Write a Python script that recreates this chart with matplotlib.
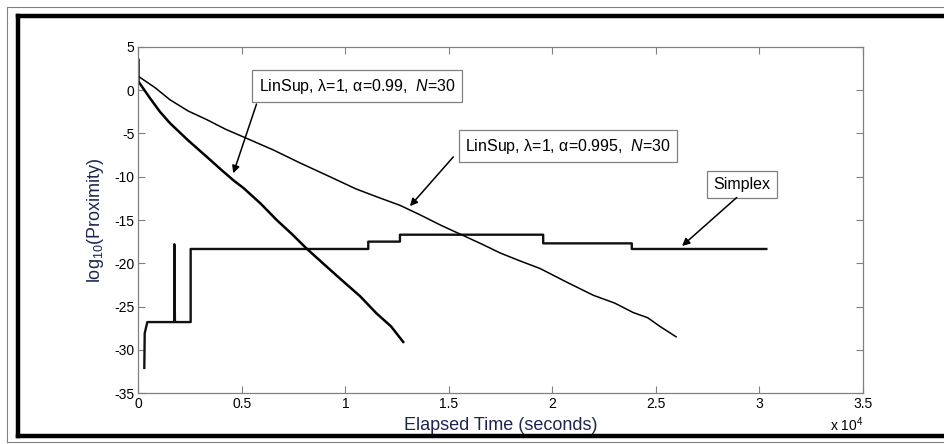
import matplotlib
matplotlib.use("Agg")
import matplotlib.pyplot as plt
from matplotlib.ticker import FuncFormatter
from matplotlib.lines import Line2D

plt.rcParams['font.family'] = ['Liberation Sans', 'DejaVu Sans']
plt.rcParams['axes.unicode_minus'] = False
plt.rcParams['mathtext.fontset'] = 'custom'
plt.rcParams['mathtext.rm'] = 'Liberation Sans'
plt.rcParams['mathtext.it'] = 'Liberation Sans:italic'

# ---- data (seconds, log10 proximity) ----
t_a099 = [0, 0, 550, 1040, 1520, 2400, 3300, 4000, 4580, 5070, 5900, 6675, 7400,
          8120, 9000, 9890, 10700, 11500, 12200, 12790]
p_a099 = [3.5, 1.0, -0.9, -2.5, -3.8, -5.8, -7.7, -9.2, -10.4, -11.3, -13.1, -15.0, -16.6,
          -18.3, -20.2, -22.1, -23.8, -25.8, -27.3, -29.1]

t_a0995 = [0, 800, 1520, 2400, 3300, 4200, 5070, 6510, 7800, 9250, 10500, 11600, 12630,
           13600, 14600, 15690, 16600, 17460, 18400, 19390, 20700, 21970, 23000, 23900,
           24600, 25190, 25970]
p_a0995 = [1.6, 0.3, -1.1, -2.4, -3.4, -4.5, -5.4, -6.9, -8.4, -10.0, -11.4, -12.4, -13.3,
           -14.4, -15.6, -16.8, -17.8, -18.8, -19.7, -20.6, -22.2, -23.7, -24.6, -25.7,
           -26.3, -27.3, -28.5]

t_simplex = [280, 300, 425, 1730, 1730, 1760, 2520, 2520, 11100, 11100, 12630, 12630,
             19550, 19550, 23830, 23830, 30330]
p_simplex = [-32.1, -28.1, -26.8, -26.8, -17.8, -26.8, -26.8, -18.35, -18.35, -17.5, -17.5,
             -16.7, -16.7, -17.7, -17.7, -18.35, -18.35]

xticks = [0, 5000, 10000, 15000, 20000, 25000, 30000, 35000]
yticks = [-35, -30, -25, -20, -15, -10, -5, 0, 5]

labels = ["LinSup, \u03bb=1, \u03b1=0.99,  $N$=30",
          "LinSup, \u03bb=1, \u03b1=0.995,  $N$=30",
          "Simplex"]
label_pos = [(10556, 0.49), (20750, -6.49), (29150, -10.9)]
arrow_tail = [(5700, -1.6), (15210, -7.7), (28900, -12.4)]
arrow_tip = [(4580, -9.6), (13115, -13.4), (26260, -18.0)]

W, H = 945, 444
fig = plt.figure(figsize=(W / 100, H / 100), dpi=100)


def fx(px):
    return px / W


def fy(py):
    return 1 - py / H


# thin gray outer frame
for xs, ys in [([fx(7), fx(7)], [fy(7), fy(442)]),
               ([fx(7), 1.0], [fy(7), fy(7)]),
               ([fx(7), 1.0], [fy(442), fy(442)])]:
    fig.add_artist(Line2D(xs, ys, color='#808080', lw=0.8, transform=fig.transFigure))
# thick black frame
for xs, ys in [([fx(18), fx(18)], [fy(16.5), fy(435.5)]),
               ([fx(18), 1.0], [fy(16.5), fy(16.5)]),
               ([fx(18), 1.0], [fy(435.5), fy(435.5)])]:
    fig.add_artist(Line2D(xs, ys, color='black', lw=3.2, transform=fig.transFigure,
                          solid_capstyle='projecting'))

ax = fig.add_axes([138.5 / W, (H - 393) / H, 724.5 / W, 346 / H])

ax.plot(t_simplex, p_simplex, color='#111111', lw=1.7)
ax.plot(t_a099, p_a099, color='black', lw=1.8)
ax.plot(t_a0995, p_a0995, color='black', lw=1.1)

ax.set_xlim(0, 35000)
ax.set_ylim(-35, 5)
ax.set_xticks(xticks)
ax.set_yticks(yticks)
ax.xaxis.set_major_formatter(FuncFormatter(lambda v, p: '%g' % (v / 1e4)))
ax.yaxis.set_major_formatter(FuncFormatter(lambda v, p: '%g' % v))
ax.tick_params(direction='in', length=5, width=0.8, color='#808080', labelsize=10,
               top=True, right=True, labelcolor='black', pad=3)
for s in ax.spines.values():
    s.set_color('#808080')
    s.set_linewidth(0.9)

ax.set_xlabel('Elapsed Time (seconds)', fontsize=13, color='#1f2550', labelpad=4)
ax.set_ylabel('log$_{10}$(Proximity)', fontsize=13, color='#1f2550', labelpad=6)
ax.text(1.0, -0.066, 'x 10$^{4}$', transform=ax.transAxes, ha='right', va='top', fontsize=10)

for lab, (lx, ly), tail, tip in zip(labels, label_pos, arrow_tail, arrow_tip):
    ax.text(lx, ly, lab, ha='center', va='center', fontsize=11.5, color='black',
            bbox=dict(boxstyle='square,pad=0.4', fc='white', ec='#808080', lw=0.9))
    ax.annotate('', xy=tip, xytext=tail,
                arrowprops=dict(arrowstyle='-|>', color='black', lw=1.1,
                                mutation_scale=11, shrinkA=0, shrinkB=0))

fig.savefig('out.png', dpi=100)
